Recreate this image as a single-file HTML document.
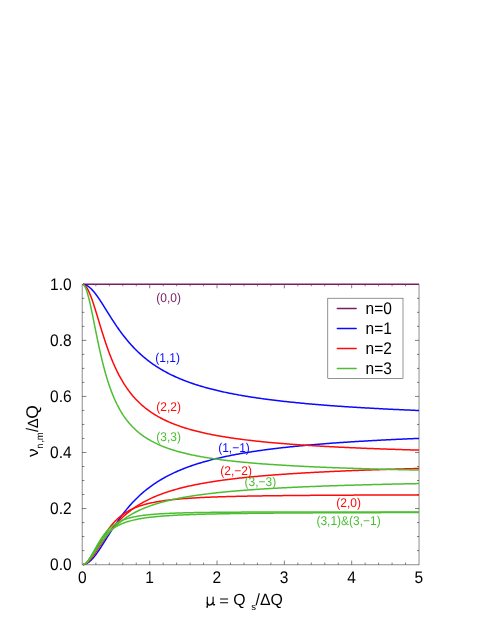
<!DOCTYPE html>
<html><head><meta charset="utf-8"><title>chart</title>
<style>
html,body{margin:0;padding:0;background:#fff;}
body{width:491px;height:635px;overflow:hidden;font-family:"Liberation Sans",sans-serif;}
svg{display:block;will-change:transform;opacity:0.999;}
text{font-family:"Liberation Sans",sans-serif;text-rendering:geometricPrecision;}
</style></head><body>
<svg width="491" height="635" viewBox="0 0 491 635">
<rect width="491" height="635" fill="#fff"/>
<g><rect x="82.1" y="284.4" width="336.92" height="280.48" fill="none" stroke="#000" stroke-width="0.45"/><path d="M95.86,564.6 v-2.0 M95.86,284.3 v2.0 M109.33,564.6 v-2.0 M109.33,284.3 v2.0 M122.79,564.6 v-2.0 M122.79,284.3 v2.0 M136.26,564.6 v-2.0 M136.26,284.3 v2.0 M149.72,564.6 v-4.0 M149.72,284.3 v4.0 M163.18,564.6 v-2.0 M163.18,284.3 v2.0 M176.65,564.6 v-2.0 M176.65,284.3 v2.0 M190.11,564.6 v-2.0 M190.11,284.3 v2.0 M203.58,564.6 v-2.0 M203.58,284.3 v2.0 M217.04,564.6 v-4.0 M217.04,284.3 v4.0 M230.50,564.6 v-2.0 M230.50,284.3 v2.0 M243.97,564.6 v-2.0 M243.97,284.3 v2.0 M257.43,564.6 v-2.0 M257.43,284.3 v2.0 M270.90,564.6 v-2.0 M270.90,284.3 v2.0 M284.36,564.6 v-4.0 M284.36,284.3 v4.0 M297.82,564.6 v-2.0 M297.82,284.3 v2.0 M311.29,564.6 v-2.0 M311.29,284.3 v2.0 M324.75,564.6 v-2.0 M324.75,284.3 v2.0 M338.22,564.6 v-2.0 M338.22,284.3 v2.0 M351.68,564.6 v-4.0 M351.68,284.3 v4.0 M365.14,564.6 v-2.0 M365.14,284.3 v2.0 M378.61,564.6 v-2.0 M378.61,284.3 v2.0 M392.07,564.6 v-2.0 M392.07,284.3 v2.0 M405.54,564.6 v-2.0 M405.54,284.3 v2.0 M82.1,550.59 h2.3 M419.0,550.59 h-2.0 M82.1,536.57 h2.3 M419.0,536.57 h-2.0 M82.1,522.56 h2.3 M419.0,522.56 h-2.0 M82.1,508.54 h4.3 M419.0,508.54 h-4.0 M82.1,494.53 h2.3 M419.0,494.53 h-2.0 M82.1,480.51 h2.3 M419.0,480.51 h-2.0 M82.1,466.50 h2.3 M419.0,466.50 h-2.0 M82.1,452.48 h4.3 M419.0,452.48 h-4.0 M82.1,438.47 h2.3 M419.0,438.47 h-2.0 M82.1,424.45 h2.3 M419.0,424.45 h-2.0 M82.1,410.44 h2.3 M419.0,410.44 h-2.0 M82.1,396.42 h4.3 M419.0,396.42 h-4.0 M82.1,382.40 h2.3 M419.0,382.40 h-2.0 M82.1,368.39 h2.3 M419.0,368.39 h-2.0 M82.1,354.38 h2.3 M419.0,354.38 h-2.0 M82.1,340.36 h4.3 M419.0,340.36 h-4.0 M82.1,326.35 h2.3 M419.0,326.35 h-2.0 M82.1,312.33 h2.3 M419.0,312.33 h-2.0 M82.1,298.31 h2.3 M419.0,298.31 h-2.0" stroke="#000" stroke-width="0.5" fill="none"/></g>
<defs><clipPath id="cp"><rect x="82.95" y="280" width="337" height="286"/></clipPath></defs>
<g clip-path="url(#cp)"><path d="M82.4,284.3 L419.0,284.3" stroke="#761f63" stroke-width="1.5" fill="none"/><path d="M82.40,284.30 L82.68,284.30 L82.96,284.32 L83.24,284.34 L83.52,284.38 L83.80,284.42 L84.08,284.47 L84.36,284.54 L84.64,284.61 L84.92,284.69 L85.21,284.78 L85.49,284.89 L85.77,285.00 L86.05,285.12 L86.33,285.24 L86.61,285.38 L86.89,285.53 L87.17,285.69 L87.45,285.85 L87.73,286.02 L88.01,286.21 L88.29,286.40 L88.57,286.60 L88.85,286.81 L89.13,287.02 L89.41,287.25 L89.69,287.48 L89.97,287.72 L90.25,287.97 L90.53,288.22 L90.82,288.48 L91.10,288.75 L91.38,289.03 L91.66,289.32 L91.94,289.61 L92.22,289.91 L92.50,290.21 L92.78,290.52 L93.06,290.84 L93.34,291.16 L93.62,291.49 L93.90,291.83 L94.18,292.17 L94.46,292.51 L94.74,292.87 L95.02,293.22 L95.30,293.59 L95.58,293.95 L95.86,294.32 L96.14,294.70 L96.43,295.08 L96.71,295.47 L96.99,295.85 L97.27,296.25 L97.55,296.64 L97.83,297.04 L98.11,297.45 L98.39,297.86 L98.67,298.27 L98.95,298.68 L99.23,299.10 L99.51,299.52 L99.79,299.94 L100.07,300.36 L100.35,300.79 L100.63,301.22 L100.91,301.65 L101.19,302.08 L101.47,302.52 L101.75,302.95 L102.04,303.39 L102.32,303.83 L102.60,304.27 L102.88,304.71 L103.16,305.16 L103.44,305.60 L103.72,306.05 L104.00,306.50 L104.28,306.94 L104.56,307.39 L104.84,307.84 L105.12,308.29 L105.40,308.74 L105.68,309.19 L105.96,309.63 L106.24,310.08 L106.52,310.53 L106.80,310.98 L107.08,311.43 L107.36,311.88 L107.65,312.33 L107.93,312.78 L108.21,313.23 L108.49,313.67 L108.77,314.12 L109.05,314.57 L109.33,315.01 L109.61,315.46 L109.89,315.90 L110.17,316.34 L110.45,316.78 L110.73,317.22 L111.01,317.66 L111.29,318.10 L111.57,318.54 L111.85,318.98 L112.13,319.41 L112.41,319.84 L112.69,320.28 L112.97,320.71 L113.26,321.14 L113.54,321.57 L113.82,321.99 L114.10,322.42 L114.38,322.84 L114.66,323.26 L114.94,323.68 L115.22,324.10 L115.50,324.52 L115.78,324.94 L116.06,325.35 L117.07,326.83 L118.09,328.29 L119.10,329.72 L120.11,331.13 L121.13,332.51 L122.14,333.87 L123.15,335.20 L124.17,336.50 L125.18,337.79 L126.19,339.04 L127.20,340.27 L128.22,341.47 L129.23,342.65 L130.24,343.81 L131.26,344.94 L132.27,346.04 L133.28,347.13 L134.30,348.19 L135.31,349.22 L136.32,350.24 L137.34,351.23 L138.35,352.20 L139.36,353.15 L140.38,354.08 L141.39,354.99 L142.40,355.88 L143.42,356.75 L144.43,357.61 L145.44,358.44 L146.46,359.26 L147.47,360.06 L148.48,360.84 L149.49,361.60 L150.51,362.36 L151.52,363.09 L152.53,363.81 L153.55,364.51 L154.56,365.20 L155.57,365.88 L156.59,366.54 L157.60,367.19 L158.61,367.83 L159.63,368.45 L160.64,369.06 L161.65,369.66 L162.67,370.25 L163.68,370.83 L164.69,371.39 L165.71,371.95 L166.72,372.49 L167.73,373.02 L168.75,373.55 L169.76,374.06 L170.77,374.56 L171.78,375.06 L172.80,375.54 L173.81,376.02 L174.82,376.49 L175.84,376.95 L176.85,377.40 L177.86,377.85 L178.88,378.28 L179.89,378.71 L180.90,379.13 L181.92,379.55 L182.93,379.95 L183.94,380.35 L184.96,380.75 L185.97,381.13 L186.98,381.51 L188.00,381.89 L189.01,382.25 L190.02,382.61 L191.04,382.97 L192.05,383.32 L193.06,383.67 L194.07,384.00 L195.09,384.34 L196.10,384.67 L197.11,384.99 L198.13,385.31 L199.14,385.62 L200.15,385.93 L201.17,386.23 L202.18,386.53 L203.19,386.83 L204.21,387.12 L205.22,387.41 L206.23,387.69 L207.25,387.97 L208.26,388.24 L209.27,388.51 L210.29,388.78 L211.30,389.04 L212.31,389.30 L213.33,389.55 L214.34,389.80 L215.35,390.05 L216.36,390.30 L217.38,390.54 L218.39,390.78 L219.40,391.01 L220.42,391.24 L221.43,391.47 L222.44,391.70 L223.46,391.92 L224.47,392.14 L225.48,392.36 L226.50,392.57 L227.51,392.78 L228.52,392.99 L229.54,393.20 L230.55,393.40 L231.56,393.60 L232.58,393.80 L233.59,393.99 L234.60,394.19 L235.61,394.38 L236.63,394.57 L237.64,394.75 L238.65,394.94 L239.67,395.12 L240.68,395.30 L241.69,395.48 L242.71,395.65 L243.72,395.82 L244.73,396.00 L245.75,396.16 L246.76,396.33 L247.77,396.50 L248.79,396.66 L249.80,396.82 L250.81,396.98 L251.83,397.14 L252.84,397.30 L253.85,397.45 L254.87,397.60 L255.88,397.75 L256.89,397.90 L257.90,398.05 L258.92,398.20 L259.93,398.34 L260.94,398.49 L261.96,398.63 L262.97,398.77 L263.98,398.91 L265.00,399.04 L266.01,399.18 L267.02,399.31 L268.04,399.45 L269.05,399.58 L270.06,399.71 L271.08,399.84 L272.09,399.96 L273.10,400.09 L274.12,400.21 L275.13,400.34 L276.14,400.46 L277.16,400.58 L278.17,400.70 L279.18,400.82 L280.19,400.94 L281.21,401.05 L282.22,401.17 L283.23,401.28 L284.25,401.40 L285.26,401.51 L286.27,401.62 L287.29,401.73 L288.30,401.84 L289.31,401.95 L290.33,402.05 L291.34,402.16 L292.35,402.26 L293.37,402.37 L294.38,402.47 L295.39,402.57 L296.41,402.67 L297.42,402.77 L298.43,402.87 L299.45,402.97 L300.46,403.07 L301.47,403.17 L302.48,403.26 L303.50,403.36 L304.51,403.45 L305.52,403.54 L306.54,403.64 L307.55,403.73 L308.56,403.82 L309.58,403.91 L310.59,404.00 L311.60,404.09 L312.62,404.17 L313.63,404.26 L314.64,404.35 L315.66,404.43 L316.67,404.52 L317.68,404.60 L318.70,404.69 L319.71,404.77 L320.72,404.85 L321.73,404.93 L322.75,405.01 L323.76,405.09 L324.77,405.17 L325.79,405.25 L326.80,405.33 L327.81,405.41 L328.83,405.48 L329.84,405.56 L330.85,405.63 L331.87,405.71 L332.88,405.78 L333.89,405.86 L334.91,405.93 L335.92,406.00 L336.93,406.08 L337.95,406.15 L338.96,406.22 L339.97,406.29 L340.99,406.36 L342.00,406.43 L343.01,406.50 L344.02,406.57 L345.04,406.63 L346.05,406.70 L347.06,406.77 L348.08,406.83 L349.09,406.90 L350.10,406.97 L351.12,407.03 L352.13,407.10 L353.14,407.16 L354.16,407.22 L355.17,407.29 L356.18,407.35 L357.20,407.41 L358.21,407.47 L359.22,407.53 L360.24,407.59 L361.25,407.65 L362.26,407.71 L363.28,407.77 L364.29,407.83 L365.30,407.89 L366.31,407.95 L367.33,408.01 L368.34,408.07 L369.35,408.12 L370.37,408.18 L371.38,408.24 L372.39,408.29 L373.41,408.35 L374.42,408.40 L375.43,408.46 L376.45,408.51 L377.46,408.56 L378.47,408.62 L379.49,408.67 L380.50,408.72 L381.51,408.78 L382.53,408.83 L383.54,408.88 L384.55,408.93 L385.57,408.98 L386.58,409.04 L387.59,409.09 L388.60,409.14 L389.62,409.19 L390.63,409.24 L391.64,409.28 L392.66,409.33 L393.67,409.38 L394.68,409.43 L395.70,409.48 L396.71,409.53 L397.72,409.57 L398.74,409.62 L399.75,409.67 L400.76,409.71 L401.78,409.76 L402.79,409.81 L403.80,409.85 L404.82,409.90 L405.83,409.94 L406.84,409.99 L407.86,410.03 L408.87,410.08 L409.88,410.12 L410.89,410.16 L411.91,410.21 L412.92,410.25 L413.93,410.29 L414.95,410.34 L415.96,410.38 L416.97,410.42 L417.99,410.46 L419.00,410.50" fill="none" stroke="#0a0aff" stroke-width="1.5" stroke-linejoin="round" stroke-linecap="butt"/><path d="M82.40,564.60 L82.68,564.60 L82.96,564.58 L83.24,564.56 L83.52,564.52 L83.80,564.48 L84.08,564.43 L84.36,564.36 L84.64,564.29 L84.92,564.21 L85.21,564.12 L85.49,564.01 L85.77,563.90 L86.05,563.78 L86.33,563.66 L86.61,563.52 L86.89,563.37 L87.17,563.21 L87.45,563.05 L87.73,562.88 L88.01,562.69 L88.29,562.50 L88.57,562.30 L88.85,562.09 L89.13,561.88 L89.41,561.65 L89.69,561.42 L89.97,561.18 L90.25,560.93 L90.53,560.68 L90.82,560.42 L91.10,560.15 L91.38,559.87 L91.66,559.58 L91.94,559.29 L92.22,558.99 L92.50,558.69 L92.78,558.38 L93.06,558.06 L93.34,557.74 L93.62,557.41 L93.90,557.07 L94.18,556.73 L94.46,556.39 L94.74,556.03 L95.02,555.68 L95.30,555.31 L95.58,554.95 L95.86,554.58 L96.14,554.20 L96.43,553.82 L96.71,553.43 L96.99,553.05 L97.27,552.65 L97.55,552.26 L97.83,551.86 L98.11,551.45 L98.39,551.04 L98.67,550.63 L98.95,550.22 L99.23,549.80 L99.51,549.38 L99.79,548.96 L100.07,548.54 L100.35,548.11 L100.63,547.68 L100.91,547.25 L101.19,546.82 L101.47,546.38 L101.75,545.95 L102.04,545.51 L102.32,545.07 L102.60,544.63 L102.88,544.19 L103.16,543.74 L103.44,543.30 L103.72,542.85 L104.00,542.40 L104.28,541.96 L104.56,541.51 L104.84,541.06 L105.12,540.61 L105.40,540.16 L105.68,539.71 L105.96,539.27 L106.24,538.82 L106.52,538.37 L106.80,537.92 L107.08,537.47 L107.36,537.02 L107.65,536.57 L107.93,536.12 L108.21,535.67 L108.49,535.23 L108.77,534.78 L109.05,534.33 L109.33,533.89 L109.61,533.44 L109.89,533.00 L110.17,532.56 L110.45,532.12 L110.73,531.68 L111.01,531.24 L111.29,530.80 L111.57,530.36 L111.85,529.92 L112.13,529.49 L112.41,529.06 L112.69,528.62 L112.97,528.19 L113.26,527.76 L113.54,527.33 L113.82,526.91 L114.10,526.48 L114.38,526.06 L114.66,525.64 L114.94,525.22 L115.22,524.80 L115.50,524.38 L115.78,523.96 L116.06,523.55 L117.07,522.07 L118.09,520.61 L119.10,519.18 L120.11,517.77 L121.13,516.39 L122.14,515.03 L123.15,513.70 L124.17,512.40 L125.18,511.11 L126.19,509.86 L127.20,508.63 L128.22,507.43 L129.23,506.25 L130.24,505.09 L131.26,503.96 L132.27,502.86 L133.28,501.77 L134.30,500.71 L135.31,499.68 L136.32,498.66 L137.34,497.67 L138.35,496.70 L139.36,495.75 L140.38,494.82 L141.39,493.91 L142.40,493.02 L143.42,492.15 L144.43,491.29 L145.44,490.46 L146.46,489.64 L147.47,488.84 L148.48,488.06 L149.49,487.30 L150.51,486.54 L151.52,485.81 L152.53,485.09 L153.55,484.39 L154.56,483.70 L155.57,483.02 L156.59,482.36 L157.60,481.71 L158.61,481.07 L159.63,480.45 L160.64,479.84 L161.65,479.24 L162.67,478.65 L163.68,478.07 L164.69,477.51 L165.71,476.95 L166.72,476.41 L167.73,475.88 L168.75,475.35 L169.76,474.84 L170.77,474.34 L171.78,473.84 L172.80,473.36 L173.81,472.88 L174.82,472.41 L175.84,471.95 L176.85,471.50 L177.86,471.05 L178.88,470.62 L179.89,470.19 L180.90,469.77 L181.92,469.35 L182.93,468.95 L183.94,468.55 L184.96,468.15 L185.97,467.77 L186.98,467.39 L188.00,467.01 L189.01,466.65 L190.02,466.29 L191.04,465.93 L192.05,465.58 L193.06,465.23 L194.07,464.90 L195.09,464.56 L196.10,464.23 L197.11,463.91 L198.13,463.59 L199.14,463.28 L200.15,462.97 L201.17,462.67 L202.18,462.37 L203.19,462.07 L204.21,461.78 L205.22,461.49 L206.23,461.21 L207.25,460.93 L208.26,460.66 L209.27,460.39 L210.29,460.12 L211.30,459.86 L212.31,459.60 L213.33,459.35 L214.34,459.10 L215.35,458.85 L216.36,458.60 L217.38,458.36 L218.39,458.12 L219.40,457.89 L220.42,457.66 L221.43,457.43 L222.44,457.20 L223.46,456.98 L224.47,456.76 L225.48,456.54 L226.50,456.33 L227.51,456.12 L228.52,455.91 L229.54,455.70 L230.55,455.50 L231.56,455.30 L232.58,455.10 L233.59,454.91 L234.60,454.71 L235.61,454.52 L236.63,454.33 L237.64,454.15 L238.65,453.96 L239.67,453.78 L240.68,453.60 L241.69,453.42 L242.71,453.25 L243.72,453.08 L244.73,452.90 L245.75,452.74 L246.76,452.57 L247.77,452.40 L248.79,452.24 L249.80,452.08 L250.81,451.92 L251.83,451.76 L252.84,451.60 L253.85,451.45 L254.87,451.30 L255.88,451.15 L256.89,451.00 L257.90,450.85 L258.92,450.70 L259.93,450.56 L260.94,450.41 L261.96,450.27 L262.97,450.13 L263.98,449.99 L265.00,449.86 L266.01,449.72 L267.02,449.59 L268.04,449.45 L269.05,449.32 L270.06,449.19 L271.08,449.06 L272.09,448.94 L273.10,448.81 L274.12,448.69 L275.13,448.56 L276.14,448.44 L277.16,448.32 L278.17,448.20 L279.18,448.08 L280.19,447.96 L281.21,447.85 L282.22,447.73 L283.23,447.62 L284.25,447.50 L285.26,447.39 L286.27,447.28 L287.29,447.17 L288.30,447.06 L289.31,446.95 L290.33,446.85 L291.34,446.74 L292.35,446.64 L293.37,446.53 L294.38,446.43 L295.39,446.33 L296.41,446.23 L297.42,446.13 L298.43,446.03 L299.45,445.93 L300.46,445.83 L301.47,445.73 L302.48,445.64 L303.50,445.54 L304.51,445.45 L305.52,445.36 L306.54,445.26 L307.55,445.17 L308.56,445.08 L309.58,444.99 L310.59,444.90 L311.60,444.81 L312.62,444.73 L313.63,444.64 L314.64,444.55 L315.66,444.47 L316.67,444.38 L317.68,444.30 L318.70,444.21 L319.71,444.13 L320.72,444.05 L321.73,443.97 L322.75,443.89 L323.76,443.81 L324.77,443.73 L325.79,443.65 L326.80,443.57 L327.81,443.49 L328.83,443.42 L329.84,443.34 L330.85,443.27 L331.87,443.19 L332.88,443.12 L333.89,443.04 L334.91,442.97 L335.92,442.90 L336.93,442.82 L337.95,442.75 L338.96,442.68 L339.97,442.61 L340.99,442.54 L342.00,442.47 L343.01,442.40 L344.02,442.33 L345.04,442.27 L346.05,442.20 L347.06,442.13 L348.08,442.07 L349.09,442.00 L350.10,441.93 L351.12,441.87 L352.13,441.80 L353.14,441.74 L354.16,441.68 L355.17,441.61 L356.18,441.55 L357.20,441.49 L358.21,441.43 L359.22,441.37 L360.24,441.31 L361.25,441.25 L362.26,441.19 L363.28,441.13 L364.29,441.07 L365.30,441.01 L366.31,440.95 L367.33,440.89 L368.34,440.83 L369.35,440.78 L370.37,440.72 L371.38,440.66 L372.39,440.61 L373.41,440.55 L374.42,440.50 L375.43,440.44 L376.45,440.39 L377.46,440.34 L378.47,440.28 L379.49,440.23 L380.50,440.18 L381.51,440.12 L382.53,440.07 L383.54,440.02 L384.55,439.97 L385.57,439.92 L386.58,439.86 L387.59,439.81 L388.60,439.76 L389.62,439.71 L390.63,439.66 L391.64,439.62 L392.66,439.57 L393.67,439.52 L394.68,439.47 L395.70,439.42 L396.71,439.37 L397.72,439.33 L398.74,439.28 L399.75,439.23 L400.76,439.19 L401.78,439.14 L402.79,439.09 L403.80,439.05 L404.82,439.00 L405.83,438.96 L406.84,438.91 L407.86,438.87 L408.87,438.82 L409.88,438.78 L410.89,438.74 L411.91,438.69 L412.92,438.65 L413.93,438.61 L414.95,438.56 L415.96,438.52 L416.97,438.48 L417.99,438.44 L419.00,438.40" fill="none" stroke="#0a0aff" stroke-width="1.5" stroke-linejoin="round" stroke-linecap="butt"/><path d="M82.40,284.30 L82.68,284.31 L82.96,284.36 L83.24,284.43 L83.52,284.53 L83.80,284.66 L84.08,284.82 L84.36,285.01 L84.64,285.23 L84.92,285.47 L85.21,285.74 L85.49,286.04 L85.77,286.37 L86.05,286.72 L86.33,287.10 L86.61,287.51 L86.89,287.94 L87.17,288.40 L87.45,288.88 L87.73,289.38 L88.01,289.91 L88.29,290.46 L88.57,291.03 L88.85,291.62 L89.13,292.23 L89.41,292.87 L89.69,293.52 L89.97,294.19 L90.25,294.88 L90.53,295.59 L90.82,296.31 L91.10,297.05 L91.38,297.81 L91.66,298.58 L91.94,299.36 L92.22,300.16 L92.50,300.97 L92.78,301.79 L93.06,302.62 L93.34,303.46 L93.62,304.31 L93.90,305.18 L94.18,306.05 L94.46,306.92 L94.74,307.81 L95.02,308.70 L95.30,309.60 L95.58,310.50 L95.86,311.41 L96.14,312.33 L96.43,313.24 L96.71,314.16 L96.99,315.08 L97.27,316.01 L97.55,316.94 L97.83,317.86 L98.11,318.79 L98.39,319.72 L98.67,320.65 L98.95,321.58 L99.23,322.50 L99.51,323.43 L99.79,324.36 L100.07,325.28 L100.35,326.20 L100.63,327.12 L100.91,328.03 L101.19,328.94 L101.47,329.85 L101.75,330.76 L102.04,331.66 L102.32,332.55 L102.60,333.45 L102.88,334.33 L103.16,335.22 L103.44,336.09 L103.72,336.97 L104.00,337.83 L104.28,338.70 L104.56,339.55 L104.84,340.40 L105.12,341.25 L105.40,342.09 L105.68,342.92 L105.96,343.75 L106.24,344.57 L106.52,345.38 L106.80,346.19 L107.08,346.99 L107.36,347.79 L107.65,348.58 L107.93,349.36 L108.21,350.14 L108.49,350.91 L108.77,351.67 L109.05,352.43 L109.33,353.17 L109.61,353.92 L109.89,354.65 L110.17,355.38 L110.45,356.11 L110.73,356.82 L111.01,357.53 L111.29,358.23 L111.57,358.93 L111.85,359.62 L112.13,360.30 L112.41,360.98 L112.69,361.65 L112.97,362.32 L113.26,362.97 L113.54,363.62 L113.82,364.27 L114.10,364.91 L114.38,365.54 L114.66,366.16 L114.94,366.78 L115.22,367.40 L115.50,368.01 L115.78,368.61 L116.06,369.20 L117.07,371.30 L118.09,373.33 L119.10,375.29 L120.11,377.17 L121.13,378.99 L122.14,380.74 L123.15,382.43 L124.17,384.06 L125.18,385.63 L126.19,387.15 L127.20,388.61 L128.22,390.03 L129.23,391.39 L130.24,392.71 L131.26,393.99 L132.27,395.22 L133.28,396.41 L134.30,397.57 L135.31,398.68 L136.32,399.76 L137.34,400.81 L138.35,401.82 L139.36,402.80 L140.38,403.75 L141.39,404.68 L142.40,405.57 L143.42,406.44 L144.43,407.28 L145.44,408.10 L146.46,408.89 L147.47,409.66 L148.48,410.41 L149.49,411.14 L150.51,411.85 L151.52,412.54 L152.53,413.21 L153.55,413.87 L154.56,414.50 L155.57,415.12 L156.59,415.73 L157.60,416.31 L158.61,416.89 L159.63,417.45 L160.64,417.99 L161.65,418.52 L162.67,419.04 L163.68,419.55 L164.69,420.04 L165.71,420.52 L166.72,421.00 L167.73,421.46 L168.75,421.91 L169.76,422.35 L170.77,422.78 L171.78,423.20 L172.80,423.61 L173.81,424.01 L174.82,424.41 L175.84,424.79 L176.85,425.17 L177.86,425.54 L178.88,425.90 L179.89,426.25 L180.90,426.60 L181.92,426.94 L182.93,427.28 L183.94,427.60 L184.96,427.92 L185.97,428.24 L186.98,428.55 L188.00,428.85 L189.01,429.14 L190.02,429.44 L191.04,429.72 L192.05,430.00 L193.06,430.28 L194.07,430.55 L195.09,430.81 L196.10,431.07 L197.11,431.33 L198.13,431.58 L199.14,431.83 L200.15,432.07 L201.17,432.31 L202.18,432.55 L203.19,432.78 L204.21,433.00 L205.22,433.23 L206.23,433.45 L207.25,433.66 L208.26,433.88 L209.27,434.09 L210.29,434.29 L211.30,434.49 L212.31,434.69 L213.33,434.89 L214.34,435.08 L215.35,435.27 L216.36,435.46 L217.38,435.65 L218.39,435.83 L219.40,436.01 L220.42,436.18 L221.43,436.36 L222.44,436.53 L223.46,436.70 L224.47,436.86 L225.48,437.03 L226.50,437.19 L227.51,437.35 L228.52,437.50 L229.54,437.66 L230.55,437.81 L231.56,437.96 L232.58,438.11 L233.59,438.26 L234.60,438.40 L235.61,438.55 L236.63,438.69 L237.64,438.83 L238.65,438.96 L239.67,439.10 L240.68,439.23 L241.69,439.36 L242.71,439.49 L243.72,439.62 L244.73,439.75 L245.75,439.88 L246.76,440.00 L247.77,440.12 L248.79,440.24 L249.80,440.36 L250.81,440.48 L251.83,440.60 L252.84,440.71 L253.85,440.82 L254.87,440.94 L255.88,441.05 L256.89,441.16 L257.90,441.27 L258.92,441.37 L259.93,441.48 L260.94,441.58 L261.96,441.69 L262.97,441.79 L263.98,441.89 L265.00,441.99 L266.01,442.09 L267.02,442.19 L268.04,442.28 L269.05,442.38 L270.06,442.47 L271.08,442.57 L272.09,442.66 L273.10,442.75 L274.12,442.84 L275.13,442.93 L276.14,443.02 L277.16,443.11 L278.17,443.19 L279.18,443.28 L280.19,443.36 L281.21,443.45 L282.22,443.53 L283.23,443.61 L284.25,443.69 L285.26,443.78 L286.27,443.85 L287.29,443.93 L288.30,444.01 L289.31,444.09 L290.33,444.17 L291.34,444.24 L292.35,444.32 L293.37,444.39 L294.38,444.47 L295.39,444.54 L296.41,444.61 L297.42,444.68 L298.43,444.75 L299.45,444.82 L300.46,444.89 L301.47,444.96 L302.48,445.03 L303.50,445.10 L304.51,445.17 L305.52,445.23 L306.54,445.30 L307.55,445.36 L308.56,445.43 L309.58,445.49 L310.59,445.56 L311.60,445.62 L312.62,445.68 L313.63,445.74 L314.64,445.80 L315.66,445.86 L316.67,445.92 L317.68,445.98 L318.70,446.04 L319.71,446.10 L320.72,446.16 L321.73,446.22 L322.75,446.27 L323.76,446.33 L324.77,446.39 L325.79,446.44 L326.80,446.50 L327.81,446.55 L328.83,446.61 L329.84,446.66 L330.85,446.71 L331.87,446.77 L332.88,446.82 L333.89,446.87 L334.91,446.92 L335.92,446.97 L336.93,447.03 L337.95,447.08 L338.96,447.13 L339.97,447.18 L340.99,447.22 L342.00,447.27 L343.01,447.32 L344.02,447.37 L345.04,447.42 L346.05,447.46 L347.06,447.51 L348.08,447.56 L349.09,447.60 L350.10,447.65 L351.12,447.70 L352.13,447.74 L353.14,447.79 L354.16,447.83 L355.17,447.87 L356.18,447.92 L357.20,447.96 L358.21,448.00 L359.22,448.05 L360.24,448.09 L361.25,448.13 L362.26,448.17 L363.28,448.22 L364.29,448.26 L365.30,448.30 L366.31,448.34 L367.33,448.38 L368.34,448.42 L369.35,448.46 L370.37,448.50 L371.38,448.54 L372.39,448.58 L373.41,448.62 L374.42,448.65 L375.43,448.69 L376.45,448.73 L377.46,448.77 L378.47,448.81 L379.49,448.84 L380.50,448.88 L381.51,448.92 L382.53,448.95 L383.54,448.99 L384.55,449.02 L385.57,449.06 L386.58,449.09 L387.59,449.13 L388.60,449.16 L389.62,449.20 L390.63,449.23 L391.64,449.27 L392.66,449.30 L393.67,449.34 L394.68,449.37 L395.70,449.40 L396.71,449.44 L397.72,449.47 L398.74,449.50 L399.75,449.53 L400.76,449.57 L401.78,449.60 L402.79,449.63 L403.80,449.66 L404.82,449.69 L405.83,449.72 L406.84,449.76 L407.86,449.79 L408.87,449.82 L409.88,449.85 L410.89,449.88 L411.91,449.91 L412.92,449.94 L413.93,449.97 L414.95,450.00 L415.96,450.03 L416.97,450.05 L417.99,450.08 L419.00,450.11" fill="none" stroke="#ff0a0a" stroke-width="1.5" stroke-linejoin="round" stroke-linecap="butt"/><path d="M82.40,564.60 L82.68,564.59 L82.96,564.57 L83.24,564.53 L83.52,564.48 L83.80,564.42 L84.08,564.33 L84.36,564.24 L84.64,564.13 L84.92,564.00 L85.21,563.86 L85.49,563.71 L85.77,563.54 L86.05,563.36 L86.33,563.16 L86.61,562.95 L86.89,562.72 L87.17,562.48 L87.45,562.23 L87.73,561.97 L88.01,561.69 L88.29,561.40 L88.57,561.09 L88.85,560.78 L89.13,560.45 L89.41,560.12 L89.69,559.77 L89.97,559.41 L90.25,559.04 L90.53,558.66 L90.82,558.27 L91.10,557.87 L91.38,557.46 L91.66,557.05 L91.94,556.63 L92.22,556.20 L92.50,555.76 L92.78,555.31 L93.06,554.86 L93.34,554.41 L93.62,553.94 L93.90,553.48 L94.18,553.00 L94.46,552.53 L94.74,552.05 L95.02,551.56 L95.30,551.07 L95.58,550.58 L95.86,550.09 L96.14,549.59 L96.43,549.10 L96.71,548.60 L96.99,548.10 L97.27,547.59 L97.55,547.09 L97.83,546.59 L98.11,546.09 L98.39,545.59 L98.67,545.08 L98.95,544.58 L99.23,544.08 L99.51,543.59 L99.79,543.09 L100.07,542.59 L100.35,542.10 L100.63,541.61 L100.91,541.12 L101.19,540.63 L101.47,540.15 L101.75,539.66 L102.04,539.18 L102.32,538.71 L102.60,538.24 L102.88,537.77 L103.16,537.30 L103.44,536.84 L103.72,536.38 L104.00,535.92 L104.28,535.47 L104.56,535.02 L104.84,534.58 L105.12,534.14 L105.40,533.70 L105.68,533.27 L105.96,532.84 L106.24,532.42 L106.52,532.00 L106.80,531.58 L107.08,531.17 L107.36,530.77 L107.65,530.36 L107.93,529.97 L108.21,529.57 L108.49,529.18 L108.77,528.80 L109.05,528.42 L109.33,528.04 L109.61,527.67 L109.89,527.30 L110.17,526.94 L110.45,526.58 L110.73,526.22 L111.01,525.87 L111.29,525.52 L111.57,525.18 L111.85,524.84 L112.13,524.51 L112.41,524.18 L112.69,523.85 L112.97,523.53 L113.26,523.21 L113.54,522.90 L113.82,522.59 L114.10,522.28 L114.38,521.98 L114.66,521.68 L114.94,521.39 L115.22,521.10 L115.50,520.81 L115.78,520.53 L116.06,520.25 L117.07,519.27 L118.09,518.34 L119.10,517.45 L120.11,516.60 L121.13,515.79 L122.14,515.02 L123.15,514.28 L124.17,513.58 L125.18,512.91 L126.19,512.27 L127.20,511.66 L128.22,511.08 L129.23,510.53 L130.24,510.00 L131.26,509.49 L132.27,509.01 L133.28,508.54 L134.30,508.10 L135.31,507.68 L136.32,507.27 L137.34,506.88 L138.35,506.51 L139.36,506.15 L140.38,505.81 L141.39,505.48 L142.40,505.17 L143.42,504.87 L144.43,504.58 L145.44,504.30 L146.46,504.03 L147.47,503.77 L148.48,503.53 L149.49,503.29 L150.51,503.06 L151.52,502.84 L152.53,502.63 L153.55,502.42 L154.56,502.22 L155.57,502.03 L156.59,501.85 L157.60,501.67 L158.61,501.50 L159.63,501.34 L160.64,501.18 L161.65,501.02 L162.67,500.87 L163.68,500.73 L164.69,500.59 L165.71,500.45 L166.72,500.32 L167.73,500.20 L168.75,500.07 L169.76,499.96 L170.77,499.84 L171.78,499.73 L172.80,499.62 L173.81,499.52 L174.82,499.41 L175.84,499.32 L176.85,499.22 L177.86,499.13 L178.88,499.04 L179.89,498.95 L180.90,498.86 L181.92,498.78 L182.93,498.70 L183.94,498.62 L184.96,498.54 L185.97,498.47 L186.98,498.40 L188.00,498.33 L189.01,498.26 L190.02,498.19 L191.04,498.13 L192.05,498.07 L193.06,498.00 L194.07,497.94 L195.09,497.89 L196.10,497.83 L197.11,497.77 L198.13,497.72 L199.14,497.67 L200.15,497.61 L201.17,497.56 L202.18,497.51 L203.19,497.47 L204.21,497.42 L205.22,497.37 L206.23,497.33 L207.25,497.29 L208.26,497.24 L209.27,497.20 L210.29,497.16 L211.30,497.12 L212.31,497.08 L213.33,497.04 L214.34,497.01 L215.35,496.97 L216.36,496.93 L217.38,496.90 L218.39,496.87 L219.40,496.83 L220.42,496.80 L221.43,496.77 L222.44,496.74 L223.46,496.70 L224.47,496.67 L225.48,496.65 L226.50,496.62 L227.51,496.59 L228.52,496.56 L229.54,496.53 L230.55,496.51 L231.56,496.48 L232.58,496.45 L233.59,496.43 L234.60,496.40 L235.61,496.38 L236.63,496.36 L237.64,496.33 L238.65,496.31 L239.67,496.29 L240.68,496.27 L241.69,496.24 L242.71,496.22 L243.72,496.20 L244.73,496.18 L245.75,496.16 L246.76,496.14 L247.77,496.12 L248.79,496.10 L249.80,496.09 L250.81,496.07 L251.83,496.05 L252.84,496.03 L253.85,496.01 L254.87,496.00 L255.88,495.98 L256.89,495.96 L257.90,495.95 L258.92,495.93 L259.93,495.92 L260.94,495.90 L261.96,495.89 L262.97,495.87 L263.98,495.86 L265.00,495.84 L266.01,495.83 L267.02,495.81 L268.04,495.80 L269.05,495.79 L270.06,495.77 L271.08,495.76 L272.09,495.75 L273.10,495.73 L274.12,495.72 L275.13,495.71 L276.14,495.70 L277.16,495.68 L278.17,495.67 L279.18,495.66 L280.19,495.65 L281.21,495.64 L282.22,495.63 L283.23,495.62 L284.25,495.61 L285.26,495.59 L286.27,495.58 L287.29,495.57 L288.30,495.56 L289.31,495.55 L290.33,495.54 L291.34,495.53 L292.35,495.52 L293.37,495.52 L294.38,495.51 L295.39,495.50 L296.41,495.49 L297.42,495.48 L298.43,495.47 L299.45,495.46 L300.46,495.45 L301.47,495.44 L302.48,495.44 L303.50,495.43 L304.51,495.42 L305.52,495.41 L306.54,495.40 L307.55,495.40 L308.56,495.39 L309.58,495.38 L310.59,495.37 L311.60,495.37 L312.62,495.36 L313.63,495.35 L314.64,495.34 L315.66,495.34 L316.67,495.33 L317.68,495.32 L318.70,495.32 L319.71,495.31 L320.72,495.30 L321.73,495.30 L322.75,495.29 L323.76,495.28 L324.77,495.28 L325.79,495.27 L326.80,495.27 L327.81,495.26 L328.83,495.25 L329.84,495.25 L330.85,495.24 L331.87,495.24 L332.88,495.23 L333.89,495.22 L334.91,495.22 L335.92,495.21 L336.93,495.21 L337.95,495.20 L338.96,495.20 L339.97,495.19 L340.99,495.19 L342.00,495.18 L343.01,495.18 L344.02,495.17 L345.04,495.17 L346.05,495.16 L347.06,495.16 L348.08,495.15 L349.09,495.15 L350.10,495.14 L351.12,495.14 L352.13,495.13 L353.14,495.13 L354.16,495.12 L355.17,495.12 L356.18,495.12 L357.20,495.11 L358.21,495.11 L359.22,495.10 L360.24,495.10 L361.25,495.10 L362.26,495.09 L363.28,495.09 L364.29,495.08 L365.30,495.08 L366.31,495.08 L367.33,495.07 L368.34,495.07 L369.35,495.06 L370.37,495.06 L371.38,495.06 L372.39,495.05 L373.41,495.05 L374.42,495.05 L375.43,495.04 L376.45,495.04 L377.46,495.03 L378.47,495.03 L379.49,495.03 L380.50,495.02 L381.51,495.02 L382.53,495.02 L383.54,495.01 L384.55,495.01 L385.57,495.01 L386.58,495.00 L387.59,495.00 L388.60,495.00 L389.62,495.00 L390.63,494.99 L391.64,494.99 L392.66,494.99 L393.67,494.98 L394.68,494.98 L395.70,494.98 L396.71,494.97 L397.72,494.97 L398.74,494.97 L399.75,494.97 L400.76,494.96 L401.78,494.96 L402.79,494.96 L403.80,494.95 L404.82,494.95 L405.83,494.95 L406.84,494.95 L407.86,494.94 L408.87,494.94 L409.88,494.94 L410.89,494.94 L411.91,494.93 L412.92,494.93 L413.93,494.93 L414.95,494.93 L415.96,494.92 L416.97,494.92 L417.99,494.92 L419.00,494.92" fill="none" stroke="#ff0a0a" stroke-width="1.5" stroke-linejoin="round" stroke-linecap="butt"/><path d="M82.40,564.60 L82.68,564.59 L82.96,564.57 L83.24,564.53 L83.52,564.48 L83.80,564.42 L84.08,564.34 L84.36,564.25 L84.64,564.14 L84.92,564.02 L85.21,563.89 L85.49,563.75 L85.77,563.59 L86.05,563.42 L86.33,563.24 L86.61,563.04 L86.89,562.84 L87.17,562.62 L87.45,562.39 L87.73,562.16 L88.01,561.91 L88.29,561.65 L88.57,561.38 L88.85,561.10 L89.13,560.81 L89.41,560.52 L89.69,560.21 L89.97,559.90 L90.25,559.58 L90.53,559.25 L90.82,558.92 L91.10,558.58 L91.38,558.23 L91.66,557.87 L91.94,557.51 L92.22,557.15 L92.50,556.78 L92.78,556.40 L93.06,556.02 L93.34,555.63 L93.62,555.24 L93.90,554.85 L94.18,554.45 L94.46,554.05 L94.74,553.64 L95.02,553.24 L95.30,552.83 L95.58,552.41 L95.86,552.00 L96.14,551.58 L96.43,551.16 L96.71,550.74 L96.99,550.32 L97.27,549.90 L97.55,549.47 L97.83,549.05 L98.11,548.62 L98.39,548.19 L98.67,547.77 L98.95,547.34 L99.23,546.91 L99.51,546.48 L99.79,546.06 L100.07,545.63 L100.35,545.20 L100.63,544.78 L100.91,544.35 L101.19,543.93 L101.47,543.50 L101.75,543.08 L102.04,542.66 L102.32,542.24 L102.60,541.82 L102.88,541.40 L103.16,540.98 L103.44,540.57 L103.72,540.15 L104.00,539.74 L104.28,539.33 L104.56,538.92 L104.84,538.52 L105.12,538.11 L105.40,537.71 L105.68,537.31 L105.96,536.91 L106.24,536.51 L106.52,536.12 L106.80,535.72 L107.08,535.33 L107.36,534.94 L107.65,534.56 L107.93,534.17 L108.21,533.79 L108.49,533.41 L108.77,533.03 L109.05,532.66 L109.33,532.29 L109.61,531.92 L109.89,531.55 L110.17,531.18 L110.45,530.82 L110.73,530.46 L111.01,530.10 L111.29,529.74 L111.57,529.39 L111.85,529.04 L112.13,528.69 L112.41,528.34 L112.69,528.00 L112.97,527.65 L113.26,527.31 L113.54,526.98 L113.82,526.64 L114.10,526.31 L114.38,525.98 L114.66,525.65 L114.94,525.33 L115.22,525.00 L115.50,524.68 L115.78,524.36 L116.06,524.05 L117.07,522.92 L118.09,521.83 L119.10,520.77 L120.11,519.73 L121.13,518.72 L122.14,517.74 L123.15,516.79 L124.17,515.86 L125.18,514.96 L126.19,514.08 L127.20,513.22 L128.22,512.39 L129.23,511.58 L130.24,510.79 L131.26,510.02 L132.27,509.27 L133.28,508.54 L134.30,507.83 L135.31,507.14 L136.32,506.47 L137.34,505.81 L138.35,505.17 L139.36,504.54 L140.38,503.93 L141.39,503.34 L142.40,502.76 L143.42,502.19 L144.43,501.64 L145.44,501.10 L146.46,500.58 L147.47,500.06 L148.48,499.56 L149.49,499.07 L150.51,498.59 L151.52,498.12 L152.53,497.66 L153.55,497.21 L154.56,496.77 L155.57,496.35 L156.59,495.93 L157.60,495.51 L158.61,495.11 L159.63,494.72 L160.64,494.33 L161.65,493.96 L162.67,493.59 L163.68,493.22 L164.69,492.87 L165.71,492.52 L166.72,492.18 L167.73,491.85 L168.75,491.52 L169.76,491.20 L170.77,490.88 L171.78,490.57 L172.80,490.27 L173.81,489.97 L174.82,489.68 L175.84,489.39 L176.85,489.11 L177.86,488.84 L178.88,488.56 L179.89,488.30 L180.90,488.04 L181.92,487.78 L182.93,487.52 L183.94,487.28 L184.96,487.03 L185.97,486.79 L186.98,486.56 L188.00,486.32 L189.01,486.10 L190.02,485.87 L191.04,485.65 L192.05,485.43 L193.06,485.22 L194.07,485.01 L195.09,484.80 L196.10,484.60 L197.11,484.40 L198.13,484.20 L199.14,484.00 L200.15,483.81 L201.17,483.62 L202.18,483.44 L203.19,483.26 L204.21,483.08 L205.22,482.90 L206.23,482.72 L207.25,482.55 L208.26,482.38 L209.27,482.21 L210.29,482.05 L211.30,481.89 L212.31,481.73 L213.33,481.57 L214.34,481.41 L215.35,481.26 L216.36,481.11 L217.38,480.96 L218.39,480.81 L219.40,480.66 L220.42,480.52 L221.43,480.38 L222.44,480.24 L223.46,480.10 L224.47,479.96 L225.48,479.83 L226.50,479.70 L227.51,479.56 L228.52,479.43 L229.54,479.31 L230.55,479.18 L231.56,479.06 L232.58,478.93 L233.59,478.81 L234.60,478.69 L235.61,478.57 L236.63,478.46 L237.64,478.34 L238.65,478.23 L239.67,478.11 L240.68,478.00 L241.69,477.89 L242.71,477.78 L243.72,477.67 L244.73,477.57 L245.75,477.46 L246.76,477.36 L247.77,477.26 L248.79,477.15 L249.80,477.05 L250.81,476.95 L251.83,476.86 L252.84,476.76 L253.85,476.66 L254.87,476.57 L255.88,476.47 L256.89,476.38 L257.90,476.29 L258.92,476.20 L259.93,476.11 L260.94,476.02 L261.96,475.93 L262.97,475.84 L263.98,475.76 L265.00,475.67 L266.01,475.59 L267.02,475.50 L268.04,475.42 L269.05,475.34 L270.06,475.26 L271.08,475.18 L272.09,475.10 L273.10,475.02 L274.12,474.94 L275.13,474.86 L276.14,474.79 L277.16,474.71 L278.17,474.63 L279.18,474.56 L280.19,474.49 L281.21,474.41 L282.22,474.34 L283.23,474.27 L284.25,474.20 L285.26,474.13 L286.27,474.06 L287.29,473.99 L288.30,473.92 L289.31,473.86 L290.33,473.79 L291.34,473.72 L292.35,473.66 L293.37,473.59 L294.38,473.53 L295.39,473.46 L296.41,473.40 L297.42,473.34 L298.43,473.28 L299.45,473.21 L300.46,473.15 L301.47,473.09 L302.48,473.03 L303.50,472.97 L304.51,472.91 L305.52,472.86 L306.54,472.80 L307.55,472.74 L308.56,472.68 L309.58,472.63 L310.59,472.57 L311.60,472.52 L312.62,472.46 L313.63,472.41 L314.64,472.35 L315.66,472.30 L316.67,472.25 L317.68,472.19 L318.70,472.14 L319.71,472.09 L320.72,472.04 L321.73,471.99 L322.75,471.94 L323.76,471.88 L324.77,471.84 L325.79,471.79 L326.80,471.74 L327.81,471.69 L328.83,471.64 L329.84,471.59 L330.85,471.54 L331.87,471.50 L332.88,471.45 L333.89,471.40 L334.91,471.36 L335.92,471.31 L336.93,471.27 L337.95,471.22 L338.96,471.18 L339.97,471.13 L340.99,471.09 L342.00,471.04 L343.01,471.00 L344.02,470.96 L345.04,470.92 L346.05,470.87 L347.06,470.83 L348.08,470.79 L349.09,470.75 L350.10,470.71 L351.12,470.67 L352.13,470.62 L353.14,470.58 L354.16,470.54 L355.17,470.50 L356.18,470.47 L357.20,470.43 L358.21,470.39 L359.22,470.35 L360.24,470.31 L361.25,470.27 L362.26,470.23 L363.28,470.20 L364.29,470.16 L365.30,470.12 L366.31,470.09 L367.33,470.05 L368.34,470.01 L369.35,469.98 L370.37,469.94 L371.38,469.91 L372.39,469.87 L373.41,469.84 L374.42,469.80 L375.43,469.77 L376.45,469.73 L377.46,469.70 L378.47,469.66 L379.49,469.63 L380.50,469.60 L381.51,469.56 L382.53,469.53 L383.54,469.50 L384.55,469.47 L385.57,469.43 L386.58,469.40 L387.59,469.37 L388.60,469.34 L389.62,469.31 L390.63,469.27 L391.64,469.24 L392.66,469.21 L393.67,469.18 L394.68,469.15 L395.70,469.12 L396.71,469.09 L397.72,469.06 L398.74,469.03 L399.75,469.00 L400.76,468.97 L401.78,468.94 L402.79,468.91 L403.80,468.88 L404.82,468.86 L405.83,468.83 L406.84,468.80 L407.86,468.77 L408.87,468.74 L409.88,468.71 L410.89,468.69 L411.91,468.66 L412.92,468.63 L413.93,468.60 L414.95,468.58 L415.96,468.55 L416.97,468.52 L417.99,468.50 L419.00,468.47" fill="none" stroke="#ff0a0a" stroke-width="1.5" stroke-linejoin="round" stroke-linecap="butt"/><path d="M82.40,284.30 L82.68,284.33 L82.96,284.42 L83.24,284.56 L83.52,284.77 L83.80,285.03 L84.08,285.34 L84.36,285.72 L84.64,286.15 L84.92,286.63 L85.21,287.17 L85.49,287.76 L85.77,288.40 L86.05,289.09 L86.33,289.83 L86.61,290.61 L86.89,291.44 L87.17,292.32 L87.45,293.23 L87.73,294.19 L88.01,295.19 L88.29,296.22 L88.57,297.29 L88.85,298.39 L89.13,299.52 L89.41,300.68 L89.69,301.87 L89.97,303.09 L90.25,304.33 L90.53,305.59 L90.82,306.87 L91.10,308.18 L91.38,309.50 L91.66,310.83 L91.94,312.18 L92.22,313.54 L92.50,314.91 L92.78,316.29 L93.06,317.68 L93.34,319.07 L93.62,320.47 L93.90,321.87 L94.18,323.28 L94.46,324.68 L94.74,326.09 L95.02,327.50 L95.30,328.90 L95.58,330.30 L95.86,331.69 L96.14,333.08 L96.43,334.47 L96.71,335.85 L96.99,337.22 L97.27,338.58 L97.55,339.93 L97.83,341.28 L98.11,342.61 L98.39,343.94 L98.67,345.25 L98.95,346.56 L99.23,347.85 L99.51,349.13 L99.79,350.40 L100.07,351.65 L100.35,352.90 L100.63,354.13 L100.91,355.34 L101.19,356.55 L101.47,357.74 L101.75,358.92 L102.04,360.08 L102.32,361.23 L102.60,362.37 L102.88,363.49 L103.16,364.60 L103.44,365.69 L103.72,366.77 L104.00,367.84 L104.28,368.90 L104.56,369.94 L104.84,370.97 L105.12,371.98 L105.40,372.98 L105.68,373.97 L105.96,374.94 L106.24,375.90 L106.52,376.85 L106.80,377.79 L107.08,378.71 L107.36,379.62 L107.65,380.52 L107.93,381.40 L108.21,382.28 L108.49,383.14 L108.77,383.99 L109.05,384.82 L109.33,385.65 L109.61,386.47 L109.89,387.27 L110.17,388.06 L110.45,388.84 L110.73,389.61 L111.01,390.37 L111.29,391.12 L111.57,391.86 L111.85,392.59 L112.13,393.31 L112.41,394.02 L112.69,394.72 L112.97,395.41 L113.26,396.09 L113.54,396.76 L113.82,397.42 L114.10,398.07 L114.38,398.71 L114.66,399.35 L114.94,399.98 L115.22,400.59 L115.50,401.20 L115.78,401.80 L116.06,402.40 L117.07,404.48 L118.09,406.46 L119.10,408.34 L120.11,410.14 L121.13,411.86 L122.14,413.51 L123.15,415.08 L124.17,416.58 L125.18,418.02 L126.19,419.39 L127.20,420.71 L128.22,421.98 L129.23,423.19 L130.24,424.35 L131.26,425.47 L132.27,426.55 L133.28,427.58 L134.30,428.58 L135.31,429.54 L136.32,430.46 L137.34,431.35 L138.35,432.21 L139.36,433.04 L140.38,433.84 L141.39,434.62 L142.40,435.36 L143.42,436.08 L144.43,436.78 L145.44,437.46 L146.46,438.12 L147.47,438.75 L148.48,439.37 L149.49,439.96 L150.51,440.54 L151.52,441.10 L152.53,441.65 L153.55,442.18 L154.56,442.69 L155.57,443.19 L156.59,443.68 L157.60,444.15 L158.61,444.61 L159.63,445.05 L160.64,445.49 L161.65,445.91 L162.67,446.33 L163.68,446.73 L164.69,447.12 L165.71,447.50 L166.72,447.88 L167.73,448.24 L168.75,448.60 L169.76,448.94 L170.77,449.28 L171.78,449.61 L172.80,449.94 L173.81,450.25 L174.82,450.56 L175.84,450.86 L176.85,451.16 L177.86,451.45 L178.88,451.73 L179.89,452.01 L180.90,452.28 L181.92,452.54 L182.93,452.80 L183.94,453.05 L184.96,453.30 L185.97,453.55 L186.98,453.78 L188.00,454.02 L189.01,454.25 L190.02,454.47 L191.04,454.69 L192.05,454.91 L193.06,455.12 L194.07,455.33 L195.09,455.54 L196.10,455.74 L197.11,455.93 L198.13,456.13 L199.14,456.32 L200.15,456.50 L201.17,456.69 L202.18,456.87 L203.19,457.04 L204.21,457.22 L205.22,457.39 L206.23,457.56 L207.25,457.72 L208.26,457.88 L209.27,458.04 L210.29,458.20 L211.30,458.36 L212.31,458.51 L213.33,458.66 L214.34,458.80 L215.35,458.95 L216.36,459.09 L217.38,459.23 L218.39,459.37 L219.40,459.51 L220.42,459.64 L221.43,459.77 L222.44,459.90 L223.46,460.03 L224.47,460.16 L225.48,460.28 L226.50,460.41 L227.51,460.53 L228.52,460.65 L229.54,460.76 L230.55,460.88 L231.56,460.99 L232.58,461.11 L233.59,461.22 L234.60,461.33 L235.61,461.43 L236.63,461.54 L237.64,461.65 L238.65,461.75 L239.67,461.85 L240.68,461.95 L241.69,462.05 L242.71,462.15 L243.72,462.25 L244.73,462.34 L245.75,462.44 L246.76,462.53 L247.77,462.62 L248.79,462.71 L249.80,462.80 L250.81,462.89 L251.83,462.98 L252.84,463.07 L253.85,463.15 L254.87,463.24 L255.88,463.32 L256.89,463.40 L257.90,463.49 L258.92,463.57 L259.93,463.65 L260.94,463.72 L261.96,463.80 L262.97,463.88 L263.98,463.95 L265.00,464.03 L266.01,464.10 L267.02,464.18 L268.04,464.25 L269.05,464.32 L270.06,464.39 L271.08,464.46 L272.09,464.53 L273.10,464.60 L274.12,464.67 L275.13,464.74 L276.14,464.80 L277.16,464.87 L278.17,464.93 L279.18,465.00 L280.19,465.06 L281.21,465.12 L282.22,465.19 L283.23,465.25 L284.25,465.31 L285.26,465.37 L286.27,465.43 L287.29,465.49 L288.30,465.55 L289.31,465.61 L290.33,465.66 L291.34,465.72 L292.35,465.78 L293.37,465.83 L294.38,465.89 L295.39,465.94 L296.41,466.00 L297.42,466.05 L298.43,466.10 L299.45,466.15 L300.46,466.21 L301.47,466.26 L302.48,466.31 L303.50,466.36 L304.51,466.41 L305.52,466.46 L306.54,466.51 L307.55,466.56 L308.56,466.61 L309.58,466.65 L310.59,466.70 L311.60,466.75 L312.62,466.79 L313.63,466.84 L314.64,466.89 L315.66,466.93 L316.67,466.98 L317.68,467.02 L318.70,467.06 L319.71,467.11 L320.72,467.15 L321.73,467.19 L322.75,467.24 L323.76,467.28 L324.77,467.32 L325.79,467.36 L326.80,467.40 L327.81,467.45 L328.83,467.49 L329.84,467.53 L330.85,467.57 L331.87,467.60 L332.88,467.64 L333.89,467.68 L334.91,467.72 L335.92,467.76 L336.93,467.80 L337.95,467.83 L338.96,467.87 L339.97,467.91 L340.99,467.95 L342.00,467.98 L343.01,468.02 L344.02,468.05 L345.04,468.09 L346.05,468.12 L347.06,468.16 L348.08,468.19 L349.09,468.23 L350.10,468.26 L351.12,468.30 L352.13,468.33 L353.14,468.36 L354.16,468.40 L355.17,468.43 L356.18,468.46 L357.20,468.49 L358.21,468.53 L359.22,468.56 L360.24,468.59 L361.25,468.62 L362.26,468.65 L363.28,468.68 L364.29,468.71 L365.30,468.74 L366.31,468.77 L367.33,468.80 L368.34,468.83 L369.35,468.86 L370.37,468.89 L371.38,468.92 L372.39,468.95 L373.41,468.98 L374.42,469.01 L375.43,469.04 L376.45,469.07 L377.46,469.09 L378.47,469.12 L379.49,469.15 L380.50,469.18 L381.51,469.20 L382.53,469.23 L383.54,469.26 L384.55,469.28 L385.57,469.31 L386.58,469.34 L387.59,469.36 L388.60,469.39 L389.62,469.41 L390.63,469.44 L391.64,469.47 L392.66,469.49 L393.67,469.52 L394.68,469.54 L395.70,469.57 L396.71,469.59 L397.72,469.61 L398.74,469.64 L399.75,469.66 L400.76,469.69 L401.78,469.71 L402.79,469.73 L403.80,469.76 L404.82,469.78 L405.83,469.80 L406.84,469.83 L407.86,469.85 L408.87,469.87 L409.88,469.89 L410.89,469.92 L411.91,469.94 L412.92,469.96 L413.93,469.98 L414.95,470.01 L415.96,470.03 L416.97,470.05 L417.99,470.07 L419.00,470.09" fill="none" stroke="#4dbe33" stroke-width="1.5" stroke-linejoin="round" stroke-linecap="butt"/><path d="M82.40,564.60 L82.68,564.59 L82.96,564.56 L83.24,564.52 L83.52,564.45 L83.80,564.37 L84.08,564.27 L84.36,564.15 L84.64,564.01 L84.92,563.85 L85.21,563.67 L85.49,563.48 L85.77,563.26 L86.05,563.03 L86.33,562.79 L86.61,562.52 L86.89,562.24 L87.17,561.94 L87.45,561.63 L87.73,561.30 L88.01,560.96 L88.29,560.60 L88.57,560.22 L88.85,559.84 L89.13,559.44 L89.41,559.03 L89.69,558.61 L89.97,558.18 L90.25,557.74 L90.53,557.28 L90.82,556.82 L91.10,556.35 L91.38,555.88 L91.66,555.39 L91.94,554.91 L92.22,554.41 L92.50,553.91 L92.78,553.41 L93.06,552.90 L93.34,552.39 L93.62,551.88 L93.90,551.36 L94.18,550.85 L94.46,550.33 L94.74,549.81 L95.02,549.29 L95.30,548.78 L95.58,548.26 L95.86,547.75 L96.14,547.24 L96.43,546.73 L96.71,546.22 L96.99,545.71 L97.27,545.21 L97.55,544.72 L97.83,544.22 L98.11,543.73 L98.39,543.25 L98.67,542.77 L98.95,542.29 L99.23,541.82 L99.51,541.36 L99.79,540.90 L100.07,540.44 L100.35,539.99 L100.63,539.55 L100.91,539.11 L101.19,538.68 L101.47,538.25 L101.75,537.83 L102.04,537.42 L102.32,537.01 L102.60,536.61 L102.88,536.21 L103.16,535.82 L103.44,535.44 L103.72,535.06 L104.00,534.68 L104.28,534.32 L104.56,533.96 L104.84,533.60 L105.12,533.25 L105.40,532.91 L105.68,532.57 L105.96,532.24 L106.24,531.92 L106.52,531.60 L106.80,531.28 L107.08,530.97 L107.36,530.67 L107.65,530.37 L107.93,530.08 L108.21,529.79 L108.49,529.51 L108.77,529.23 L109.05,528.96 L109.33,528.69 L109.61,528.43 L109.89,528.17 L110.17,527.91 L110.45,527.66 L110.73,527.42 L111.01,527.18 L111.29,526.94 L111.57,526.71 L111.85,526.49 L112.13,526.26 L112.41,526.04 L112.69,525.83 L112.97,525.62 L113.26,525.41 L113.54,525.21 L113.82,525.01 L114.10,524.81 L114.38,524.62 L114.66,524.43 L114.94,524.24 L115.22,524.06 L115.50,523.88 L115.78,523.71 L116.06,523.53 L117.07,522.93 L118.09,522.37 L119.10,521.85 L120.11,521.36 L121.13,520.89 L122.14,520.46 L123.15,520.05 L124.17,519.67 L125.18,519.31 L126.19,518.97 L127.20,518.65 L128.22,518.35 L129.23,518.06 L130.24,517.79 L131.26,517.54 L132.27,517.30 L133.28,517.07 L134.30,516.86 L135.31,516.65 L136.32,516.46 L137.34,516.28 L138.35,516.10 L139.36,515.94 L140.38,515.78 L141.39,515.63 L142.40,515.49 L143.42,515.36 L144.43,515.23 L145.44,515.11 L146.46,514.99 L147.47,514.88 L148.48,514.77 L149.49,514.67 L150.51,514.57 L151.52,514.48 L152.53,514.39 L153.55,514.31 L154.56,514.22 L155.57,514.15 L156.59,514.07 L157.60,514.00 L158.61,513.93 L159.63,513.87 L160.64,513.80 L161.65,513.74 L162.67,513.68 L163.68,513.63 L164.69,513.57 L165.71,513.52 L166.72,513.47 L167.73,513.42 L168.75,513.38 L169.76,513.33 L170.77,513.29 L171.78,513.25 L172.80,513.21 L173.81,513.17 L174.82,513.13 L175.84,513.10 L176.85,513.06 L177.86,513.03 L178.88,513.00 L179.89,512.97 L180.90,512.94 L181.92,512.91 L182.93,512.88 L183.94,512.85 L184.96,512.83 L185.97,512.80 L186.98,512.78 L188.00,512.75 L189.01,512.73 L190.02,512.71 L191.04,512.69 L192.05,512.66 L193.06,512.64 L194.07,512.62 L195.09,512.61 L196.10,512.59 L197.11,512.57 L198.13,512.55 L199.14,512.53 L200.15,512.52 L201.17,512.50 L202.18,512.49 L203.19,512.47 L204.21,512.46 L205.22,512.44 L206.23,512.43 L207.25,512.42 L208.26,512.40 L209.27,512.39 L210.29,512.38 L211.30,512.37 L212.31,512.35 L213.33,512.34 L214.34,512.33 L215.35,512.32 L216.36,512.31 L217.38,512.30 L218.39,512.29 L219.40,512.28 L220.42,512.27 L221.43,512.26 L222.44,512.25 L223.46,512.24 L224.47,512.24 L225.48,512.23 L226.50,512.22 L227.51,512.21 L228.52,512.20 L229.54,512.20 L230.55,512.19 L231.56,512.18 L232.58,512.18 L233.59,512.17 L234.60,512.16 L235.61,512.16 L236.63,512.15 L237.64,512.14 L238.65,512.14 L239.67,512.13 L240.68,512.13 L241.69,512.12 L242.71,512.12 L243.72,512.11 L244.73,512.11 L245.75,512.10 L246.76,512.10 L247.77,512.09 L248.79,512.09 L249.80,512.08 L250.81,512.08 L251.83,512.07 L252.84,512.07 L253.85,512.06 L254.87,512.06 L255.88,512.06 L256.89,512.05 L257.90,512.05 L258.92,512.05 L259.93,512.04 L260.94,512.04 L261.96,512.03 L262.97,512.03 L263.98,512.03 L265.00,512.03 L266.01,512.02 L267.02,512.02 L268.04,512.02 L269.05,512.01 L270.06,512.01 L271.08,512.01 L272.09,512.00 L273.10,512.00 L274.12,512.00 L275.13,512.00 L276.14,511.99 L277.16,511.99 L278.17,511.99 L279.18,511.99 L280.19,511.98 L281.21,511.98 L282.22,511.98 L283.23,511.98 L284.25,511.98 L285.26,511.97 L286.27,511.97 L287.29,511.97 L288.30,511.97 L289.31,511.97 L290.33,511.96 L291.34,511.96 L292.35,511.96 L293.37,511.96 L294.38,511.96 L295.39,511.96 L296.41,511.95 L297.42,511.95 L298.43,511.95 L299.45,511.95 L300.46,511.95 L301.47,511.95 L302.48,511.94 L303.50,511.94 L304.51,511.94 L305.52,511.94 L306.54,511.94 L307.55,511.94 L308.56,511.94 L309.58,511.94 L310.59,511.93 L311.60,511.93 L312.62,511.93 L313.63,511.93 L314.64,511.93 L315.66,511.93 L316.67,511.93 L317.68,511.93 L318.70,511.93 L319.71,511.92 L320.72,511.92 L321.73,511.92 L322.75,511.92 L323.76,511.92 L324.77,511.92 L325.79,511.92 L326.80,511.92 L327.81,511.92 L328.83,511.92 L329.84,511.92 L330.85,511.91 L331.87,511.91 L332.88,511.91 L333.89,511.91 L334.91,511.91 L335.92,511.91 L336.93,511.91 L337.95,511.91 L338.96,511.91 L339.97,511.91 L340.99,511.91 L342.00,511.91 L343.01,511.91 L344.02,511.91 L345.04,511.91 L346.05,511.90 L347.06,511.90 L348.08,511.90 L349.09,511.90 L350.10,511.90 L351.12,511.90 L352.13,511.90 L353.14,511.90 L354.16,511.90 L355.17,511.90 L356.18,511.90 L357.20,511.90 L358.21,511.90 L359.22,511.90 L360.24,511.90 L361.25,511.90 L362.26,511.90 L363.28,511.90 L364.29,511.90 L365.30,511.90 L366.31,511.90 L367.33,511.90 L368.34,511.90 L369.35,511.89 L370.37,511.89 L371.38,511.89 L372.39,511.89 L373.41,511.89 L374.42,511.89 L375.43,511.89 L376.45,511.89 L377.46,511.89 L378.47,511.89 L379.49,511.89 L380.50,511.89 L381.51,511.89 L382.53,511.89 L383.54,511.89 L384.55,511.89 L385.57,511.89 L386.58,511.89 L387.59,511.89 L388.60,511.89 L389.62,511.89 L390.63,511.89 L391.64,511.89 L392.66,511.89 L393.67,511.89 L394.68,511.89 L395.70,511.89 L396.71,511.89 L397.72,511.89 L398.74,511.89 L399.75,511.89 L400.76,511.89 L401.78,511.89 L402.79,511.89 L403.80,511.89 L404.82,511.89 L405.83,511.89 L406.84,511.89 L407.86,511.89 L408.87,511.89 L409.88,511.89 L410.89,511.89 L411.91,511.89 L412.92,511.89 L413.93,511.89 L414.95,511.89 L415.96,511.89 L416.97,511.89 L417.99,511.89 L419.00,511.89" fill="none" stroke="#4dbe33" stroke-width="1.5" stroke-linejoin="round" stroke-linecap="butt"/><path d="M82.40,564.60 L82.68,564.59 L82.96,564.56 L83.24,564.50 L83.52,564.43 L83.80,564.33 L84.08,564.21 L84.36,564.07 L84.64,563.91 L84.92,563.73 L85.21,563.53 L85.49,563.31 L85.77,563.07 L86.05,562.82 L86.33,562.55 L86.61,562.26 L86.89,561.95 L87.17,561.63 L87.45,561.30 L87.73,560.95 L88.01,560.58 L88.29,560.21 L88.57,559.82 L88.85,559.43 L89.13,559.02 L89.41,558.60 L89.69,558.18 L89.97,557.75 L90.25,557.31 L90.53,556.86 L90.82,556.41 L91.10,555.95 L91.38,555.49 L91.66,555.03 L91.94,554.56 L92.22,554.09 L92.50,553.62 L92.78,553.14 L93.06,552.67 L93.34,552.19 L93.62,551.72 L93.90,551.24 L94.18,550.77 L94.46,550.29 L94.74,549.82 L95.02,549.35 L95.30,548.89 L95.58,548.42 L95.86,547.96 L96.14,547.51 L96.43,547.05 L96.71,546.60 L96.99,546.15 L97.27,545.71 L97.55,545.27 L97.83,544.84 L98.11,544.41 L98.39,543.98 L98.67,543.56 L98.95,543.15 L99.23,542.74 L99.51,542.33 L99.79,541.93 L100.07,541.53 L100.35,541.14 L100.63,540.76 L100.91,540.38 L101.19,540.00 L101.47,539.63 L101.75,539.27 L102.04,538.91 L102.32,538.55 L102.60,538.21 L102.88,537.86 L103.16,537.52 L103.44,537.19 L103.72,536.86 L104.00,536.54 L104.28,536.22 L104.56,535.90 L104.84,535.60 L105.12,535.29 L105.40,534.99 L105.68,534.70 L105.96,534.41 L106.24,534.12 L106.52,533.84 L106.80,533.57 L107.08,533.29 L107.36,533.03 L107.65,532.76 L107.93,532.51 L108.21,532.25 L108.49,532.00 L108.77,531.75 L109.05,531.51 L109.33,531.27 L109.61,531.04 L109.89,530.81 L110.17,530.58 L110.45,530.36 L110.73,530.14 L111.01,529.92 L111.29,529.71 L111.57,529.50 L111.85,529.29 L112.13,529.09 L112.41,528.89 L112.69,528.70 L112.97,528.50 L113.26,528.31 L113.54,528.13 L113.82,527.94 L114.10,527.76 L114.38,527.58 L114.66,527.41 L114.94,527.24 L115.22,527.07 L115.50,526.90 L115.78,526.73 L116.06,526.57 L117.07,526.01 L118.09,525.48 L119.10,524.97 L120.11,524.50 L121.13,524.05 L122.14,523.62 L123.15,523.22 L124.17,522.83 L125.18,522.47 L126.19,522.12 L127.20,521.79 L128.22,521.48 L129.23,521.18 L130.24,520.90 L131.26,520.63 L132.27,520.37 L133.28,520.12 L134.30,519.89 L135.31,519.66 L136.32,519.45 L137.34,519.25 L138.35,519.05 L139.36,518.86 L140.38,518.68 L141.39,518.51 L142.40,518.34 L143.42,518.18 L144.43,518.03 L145.44,517.88 L146.46,517.74 L147.47,517.61 L148.48,517.48 L149.49,517.35 L150.51,517.23 L151.52,517.11 L152.53,517.00 L153.55,516.89 L154.56,516.79 L155.57,516.68 L156.59,516.59 L157.60,516.49 L158.61,516.40 L159.63,516.31 L160.64,516.23 L161.65,516.15 L162.67,516.07 L163.68,515.99 L164.69,515.91 L165.71,515.84 L166.72,515.77 L167.73,515.70 L168.75,515.64 L169.76,515.57 L170.77,515.51 L171.78,515.45 L172.80,515.39 L173.81,515.33 L174.82,515.28 L175.84,515.22 L176.85,515.17 L177.86,515.12 L178.88,515.07 L179.89,515.02 L180.90,514.97 L181.92,514.93 L182.93,514.88 L183.94,514.84 L184.96,514.80 L185.97,514.76 L186.98,514.72 L188.00,514.68 L189.01,514.64 L190.02,514.60 L191.04,514.56 L192.05,514.53 L193.06,514.49 L194.07,514.46 L195.09,514.43 L196.10,514.39 L197.11,514.36 L198.13,514.33 L199.14,514.30 L200.15,514.27 L201.17,514.24 L202.18,514.21 L203.19,514.19 L204.21,514.16 L205.22,514.13 L206.23,514.11 L207.25,514.08 L208.26,514.06 L209.27,514.03 L210.29,514.01 L211.30,513.99 L212.31,513.96 L213.33,513.94 L214.34,513.92 L215.35,513.90 L216.36,513.88 L217.38,513.86 L218.39,513.84 L219.40,513.82 L220.42,513.80 L221.43,513.78 L222.44,513.76 L223.46,513.74 L224.47,513.72 L225.48,513.70 L226.50,513.69 L227.51,513.67 L228.52,513.65 L229.54,513.64 L230.55,513.62 L231.56,513.60 L232.58,513.59 L233.59,513.57 L234.60,513.56 L235.61,513.54 L236.63,513.53 L237.64,513.51 L238.65,513.50 L239.67,513.49 L240.68,513.47 L241.69,513.46 L242.71,513.45 L243.72,513.43 L244.73,513.42 L245.75,513.41 L246.76,513.39 L247.77,513.38 L248.79,513.37 L249.80,513.36 L250.81,513.35 L251.83,513.34 L252.84,513.32 L253.85,513.31 L254.87,513.30 L255.88,513.29 L256.89,513.28 L257.90,513.27 L258.92,513.26 L259.93,513.25 L260.94,513.24 L261.96,513.23 L262.97,513.22 L263.98,513.21 L265.00,513.20 L266.01,513.19 L267.02,513.18 L268.04,513.17 L269.05,513.17 L270.06,513.16 L271.08,513.15 L272.09,513.14 L273.10,513.13 L274.12,513.12 L275.13,513.11 L276.14,513.11 L277.16,513.10 L278.17,513.09 L279.18,513.08 L280.19,513.08 L281.21,513.07 L282.22,513.06 L283.23,513.05 L284.25,513.05 L285.26,513.04 L286.27,513.03 L287.29,513.02 L288.30,513.02 L289.31,513.01 L290.33,513.00 L291.34,513.00 L292.35,512.99 L293.37,512.98 L294.38,512.98 L295.39,512.97 L296.41,512.97 L297.42,512.96 L298.43,512.95 L299.45,512.95 L300.46,512.94 L301.47,512.94 L302.48,512.93 L303.50,512.92 L304.51,512.92 L305.52,512.91 L306.54,512.91 L307.55,512.90 L308.56,512.90 L309.58,512.89 L310.59,512.89 L311.60,512.88 L312.62,512.88 L313.63,512.87 L314.64,512.87 L315.66,512.86 L316.67,512.86 L317.68,512.85 L318.70,512.85 L319.71,512.84 L320.72,512.84 L321.73,512.83 L322.75,512.83 L323.76,512.82 L324.77,512.82 L325.79,512.81 L326.80,512.81 L327.81,512.80 L328.83,512.80 L329.84,512.80 L330.85,512.79 L331.87,512.79 L332.88,512.78 L333.89,512.78 L334.91,512.77 L335.92,512.77 L336.93,512.77 L337.95,512.76 L338.96,512.76 L339.97,512.75 L340.99,512.75 L342.00,512.75 L343.01,512.74 L344.02,512.74 L345.04,512.74 L346.05,512.73 L347.06,512.73 L348.08,512.72 L349.09,512.72 L350.10,512.72 L351.12,512.71 L352.13,512.71 L353.14,512.71 L354.16,512.70 L355.17,512.70 L356.18,512.70 L357.20,512.69 L358.21,512.69 L359.22,512.69 L360.24,512.68 L361.25,512.68 L362.26,512.68 L363.28,512.67 L364.29,512.67 L365.30,512.67 L366.31,512.67 L367.33,512.66 L368.34,512.66 L369.35,512.66 L370.37,512.65 L371.38,512.65 L372.39,512.65 L373.41,512.65 L374.42,512.64 L375.43,512.64 L376.45,512.64 L377.46,512.63 L378.47,512.63 L379.49,512.63 L380.50,512.63 L381.51,512.62 L382.53,512.62 L383.54,512.62 L384.55,512.62 L385.57,512.61 L386.58,512.61 L387.59,512.61 L388.60,512.61 L389.62,512.60 L390.63,512.60 L391.64,512.60 L392.66,512.60 L393.67,512.59 L394.68,512.59 L395.70,512.59 L396.71,512.59 L397.72,512.58 L398.74,512.58 L399.75,512.58 L400.76,512.58 L401.78,512.57 L402.79,512.57 L403.80,512.57 L404.82,512.57 L405.83,512.57 L406.84,512.56 L407.86,512.56 L408.87,512.56 L409.88,512.56 L410.89,512.55 L411.91,512.55 L412.92,512.55 L413.93,512.55 L414.95,512.55 L415.96,512.54 L416.97,512.54 L417.99,512.54 L419.00,512.54" fill="none" stroke="#4dbe33" stroke-width="1.5" stroke-linejoin="round" stroke-linecap="butt"/><path d="M82.40,564.60 L82.68,564.59 L82.96,564.56 L83.24,564.52 L83.52,564.46 L83.80,564.38 L84.08,564.28 L84.36,564.17 L84.64,564.04 L84.92,563.89 L85.21,563.73 L85.49,563.56 L85.77,563.37 L86.05,563.16 L86.33,562.94 L86.61,562.71 L86.89,562.47 L87.17,562.21 L87.45,561.94 L87.73,561.67 L88.01,561.38 L88.29,561.08 L88.57,560.77 L88.85,560.45 L89.13,560.12 L89.41,559.78 L89.69,559.44 L89.97,559.09 L90.25,558.73 L90.53,558.36 L90.82,557.99 L91.10,557.62 L91.38,557.23 L91.66,556.85 L91.94,556.46 L92.22,556.06 L92.50,555.66 L92.78,555.26 L93.06,554.85 L93.34,554.45 L93.62,554.04 L93.90,553.62 L94.18,553.21 L94.46,552.79 L94.74,552.37 L95.02,551.96 L95.30,551.54 L95.58,551.12 L95.86,550.70 L96.14,550.28 L96.43,549.86 L96.71,549.44 L96.99,549.02 L97.27,548.60 L97.55,548.18 L97.83,547.76 L98.11,547.34 L98.39,546.93 L98.67,546.52 L98.95,546.10 L99.23,545.69 L99.51,545.28 L99.79,544.88 L100.07,544.47 L100.35,544.07 L100.63,543.67 L100.91,543.27 L101.19,542.87 L101.47,542.48 L101.75,542.08 L102.04,541.70 L102.32,541.31 L102.60,540.92 L102.88,540.54 L103.16,540.16 L103.44,539.78 L103.72,539.41 L104.00,539.04 L104.28,538.67 L104.56,538.30 L104.84,537.94 L105.12,537.57 L105.40,537.22 L105.68,536.86 L105.96,536.51 L106.24,536.16 L106.52,535.81 L106.80,535.47 L107.08,535.12 L107.36,534.78 L107.65,534.45 L107.93,534.11 L108.21,533.78 L108.49,533.46 L108.77,533.13 L109.05,532.81 L109.33,532.49 L109.61,532.17 L109.89,531.86 L110.17,531.55 L110.45,531.24 L110.73,530.93 L111.01,530.63 L111.29,530.33 L111.57,530.03 L111.85,529.73 L112.13,529.44 L112.41,529.15 L112.69,528.86 L112.97,528.57 L113.26,528.29 L113.54,528.01 L113.82,527.73 L114.10,527.46 L114.38,527.18 L114.66,526.91 L114.94,526.65 L115.22,526.38 L115.50,526.12 L115.78,525.86 L116.06,525.60 L117.07,524.68 L118.09,523.79 L119.10,522.93 L120.11,522.10 L121.13,521.29 L122.14,520.51 L123.15,519.76 L124.17,519.02 L125.18,518.31 L126.19,517.62 L127.20,516.95 L128.22,516.30 L129.23,515.67 L130.24,515.05 L131.26,514.46 L132.27,513.88 L133.28,513.32 L134.30,512.77 L135.31,512.24 L136.32,511.73 L137.34,511.22 L138.35,510.73 L139.36,510.26 L140.38,509.80 L141.39,509.34 L142.40,508.90 L143.42,508.48 L144.43,508.06 L145.44,507.65 L146.46,507.25 L147.47,506.87 L148.48,506.49 L149.49,506.12 L150.51,505.76 L151.52,505.41 L152.53,505.06 L153.55,504.73 L154.56,504.40 L155.57,504.08 L156.59,503.77 L157.60,503.46 L158.61,503.16 L159.63,502.87 L160.64,502.58 L161.65,502.30 L162.67,502.02 L163.68,501.75 L164.69,501.49 L165.71,501.23 L166.72,500.98 L167.73,500.73 L168.75,500.49 L169.76,500.25 L170.77,500.02 L171.78,499.79 L172.80,499.56 L173.81,499.34 L174.82,499.13 L175.84,498.92 L176.85,498.71 L177.86,498.50 L178.88,498.30 L179.89,498.11 L180.90,497.91 L181.92,497.72 L182.93,497.54 L183.94,497.35 L184.96,497.17 L185.97,497.00 L186.98,496.82 L188.00,496.65 L189.01,496.48 L190.02,496.32 L191.04,496.16 L192.05,496.00 L193.06,495.84 L194.07,495.69 L195.09,495.53 L196.10,495.38 L197.11,495.24 L198.13,495.09 L199.14,494.95 L200.15,494.81 L201.17,494.67 L202.18,494.53 L203.19,494.40 L204.21,494.27 L205.22,494.14 L206.23,494.01 L207.25,493.88 L208.26,493.76 L209.27,493.63 L210.29,493.51 L211.30,493.39 L212.31,493.28 L213.33,493.16 L214.34,493.04 L215.35,492.93 L216.36,492.82 L217.38,492.71 L218.39,492.60 L219.40,492.50 L220.42,492.39 L221.43,492.29 L222.44,492.18 L223.46,492.08 L224.47,491.98 L225.48,491.89 L226.50,491.79 L227.51,491.69 L228.52,491.60 L229.54,491.50 L230.55,491.41 L231.56,491.32 L232.58,491.23 L233.59,491.14 L234.60,491.05 L235.61,490.97 L236.63,490.88 L237.64,490.80 L238.65,490.71 L239.67,490.63 L240.68,490.55 L241.69,490.47 L242.71,490.39 L243.72,490.31 L244.73,490.23 L245.75,490.15 L246.76,490.08 L247.77,490.00 L248.79,489.93 L249.80,489.85 L250.81,489.78 L251.83,489.71 L252.84,489.64 L253.85,489.57 L254.87,489.50 L255.88,489.43 L256.89,489.36 L257.90,489.29 L258.92,489.23 L259.93,489.16 L260.94,489.10 L261.96,489.03 L262.97,488.97 L263.98,488.91 L265.00,488.84 L266.01,488.78 L267.02,488.72 L268.04,488.66 L269.05,488.60 L270.06,488.54 L271.08,488.48 L272.09,488.42 L273.10,488.37 L274.12,488.31 L275.13,488.25 L276.14,488.20 L277.16,488.14 L278.17,488.09 L279.18,488.03 L280.19,487.98 L281.21,487.93 L282.22,487.87 L283.23,487.82 L284.25,487.77 L285.26,487.72 L286.27,487.67 L287.29,487.62 L288.30,487.57 L289.31,487.52 L290.33,487.47 L291.34,487.42 L292.35,487.37 L293.37,487.33 L294.38,487.28 L295.39,487.23 L296.41,487.19 L297.42,487.14 L298.43,487.09 L299.45,487.05 L300.46,487.00 L301.47,486.96 L302.48,486.92 L303.50,486.87 L304.51,486.83 L305.52,486.79 L306.54,486.75 L307.55,486.70 L308.56,486.66 L309.58,486.62 L310.59,486.58 L311.60,486.54 L312.62,486.50 L313.63,486.46 L314.64,486.42 L315.66,486.38 L316.67,486.34 L317.68,486.30 L318.70,486.26 L319.71,486.23 L320.72,486.19 L321.73,486.15 L322.75,486.11 L323.76,486.08 L324.77,486.04 L325.79,486.01 L326.80,485.97 L327.81,485.93 L328.83,485.90 L329.84,485.86 L330.85,485.83 L331.87,485.79 L332.88,485.76 L333.89,485.73 L334.91,485.69 L335.92,485.66 L336.93,485.63 L337.95,485.59 L338.96,485.56 L339.97,485.53 L340.99,485.50 L342.00,485.46 L343.01,485.43 L344.02,485.40 L345.04,485.37 L346.05,485.34 L347.06,485.31 L348.08,485.28 L349.09,485.25 L350.10,485.22 L351.12,485.19 L352.13,485.16 L353.14,485.13 L354.16,485.10 L355.17,485.07 L356.18,485.04 L357.20,485.01 L358.21,484.98 L359.22,484.96 L360.24,484.93 L361.25,484.90 L362.26,484.87 L363.28,484.84 L364.29,484.82 L365.30,484.79 L366.31,484.76 L367.33,484.74 L368.34,484.71 L369.35,484.68 L370.37,484.66 L371.38,484.63 L372.39,484.61 L373.41,484.58 L374.42,484.56 L375.43,484.53 L376.45,484.50 L377.46,484.48 L378.47,484.46 L379.49,484.43 L380.50,484.41 L381.51,484.38 L382.53,484.36 L383.54,484.33 L384.55,484.31 L385.57,484.29 L386.58,484.26 L387.59,484.24 L388.60,484.22 L389.62,484.19 L390.63,484.17 L391.64,484.15 L392.66,484.12 L393.67,484.10 L394.68,484.08 L395.70,484.06 L396.71,484.04 L397.72,484.01 L398.74,483.99 L399.75,483.97 L400.76,483.95 L401.78,483.93 L402.79,483.91 L403.80,483.89 L404.82,483.86 L405.83,483.84 L406.84,483.82 L407.86,483.80 L408.87,483.78 L409.88,483.76 L410.89,483.74 L411.91,483.72 L412.92,483.70 L413.93,483.68 L414.95,483.66 L415.96,483.64 L416.97,483.62 L417.99,483.60 L419.00,483.58" fill="none" stroke="#4dbe33" stroke-width="1.5" stroke-linejoin="round" stroke-linecap="butt"/></g>
<g><rect x="327.85" y="298.15" width="75.15" height="80.25" fill="#fff" stroke="#000" stroke-width="0.42"/><path d="M337.4,308.40 H356.1" stroke="#761f63" stroke-width="1.5" stroke-linecap="round" fill="none"/><path d="M337.4,328.40 H356.1" stroke="#0a0aff" stroke-width="1.5" stroke-linecap="round" fill="none"/><path d="M337.4,348.40 H356.1" stroke="#ff0a0a" stroke-width="1.5" stroke-linecap="round" fill="none"/><path d="M337.4,368.40 H356.1" stroke="#4dbe33" stroke-width="1.5" stroke-linecap="round" fill="none"/></g>
<g><text transform="translate(71.60,570.45) scale(0.918,1)" font-size="16.9" fill="#000" text-anchor="end">0.0</text><text transform="translate(71.60,514.39) scale(0.918,1)" font-size="16.9" fill="#000" text-anchor="end">0.2</text><text transform="translate(71.60,458.33) scale(0.918,1)" font-size="16.9" fill="#000" text-anchor="end">0.4</text><text transform="translate(71.60,402.27) scale(0.918,1)" font-size="16.9" fill="#000" text-anchor="end">0.6</text><text transform="translate(71.60,346.21) scale(0.918,1)" font-size="16.9" fill="#000" text-anchor="end">0.8</text><text transform="translate(71.60,290.15) scale(0.918,1)" font-size="16.9" fill="#000" text-anchor="end">1.0</text><text transform="translate(82.20,583.45) scale(0.918,1)" font-size="16.9" fill="#000" text-anchor="middle">0</text><text transform="translate(149.52,583.45) scale(0.918,1)" font-size="16.9" fill="#000" text-anchor="middle">1</text><text transform="translate(216.84,583.45) scale(0.918,1)" font-size="16.9" fill="#000" text-anchor="middle">2</text><text transform="translate(284.16,583.45) scale(0.918,1)" font-size="16.9" fill="#000" text-anchor="middle">3</text><text transform="translate(351.48,583.45) scale(0.918,1)" font-size="16.9" fill="#000" text-anchor="middle">4</text><text transform="translate(418.80,583.45) scale(0.918,1)" font-size="16.9" fill="#000" text-anchor="middle">5</text><text transform="translate(156.30,301.50) scale(0.945,1)" font-size="12.7" fill="#761f63" text-anchor="start">(0,0)</text><text transform="translate(155.30,361.90) scale(0.945,1)" font-size="12.7" fill="#0a0aff" text-anchor="start">(1,1)</text><text transform="translate(156.30,410.70) scale(0.945,1)" font-size="12.7" fill="#ff0a0a" text-anchor="start">(2,2)</text><text transform="translate(156.30,441.00) scale(0.945,1)" font-size="12.7" fill="#4dbe33" text-anchor="start">(3,3)</text><text transform="translate(218.20,451.60) scale(0.945,1)" font-size="12.7" fill="#0a0aff" text-anchor="start">(1,−1)</text><text transform="translate(220.30,474.70) scale(0.945,1)" font-size="12.7" fill="#ff0a0a" text-anchor="start">(2,−2)</text><text transform="translate(244.50,486.10) scale(0.945,1)" font-size="12.7" fill="#4dbe33" text-anchor="start">(3,−3)</text><text transform="translate(336.30,507.10) scale(0.945,1)" font-size="12.7" fill="#ff0a0a" text-anchor="start">(2,0)</text><text transform="translate(316.40,525.40) scale(0.945,1)" font-size="12.7" fill="#4dbe33" text-anchor="start">(3,1)&amp;(3,−1)</text><text transform="translate(365.60,313.65) scale(0.918,1)" font-size="16.9" fill="#000" text-anchor="start">n=0</text><text transform="translate(365.60,333.65) scale(0.918,1)" font-size="16.9" fill="#000" text-anchor="start">n=1</text><text transform="translate(365.60,353.65) scale(0.918,1)" font-size="16.9" fill="#000" text-anchor="start">n=2</text><text transform="translate(365.60,373.65) scale(0.918,1)" font-size="16.9" fill="#000" text-anchor="start">n=3</text></g>
<g fill="none" stroke="#000" stroke-linecap="round" stroke-linejoin="round"><path d="M207.3,597.1 L207.3,606.9" stroke-width="1.15"/><circle cx="207.0" cy="607.1" r="0.75" fill="#000" stroke="none"/><path d="M207.3,602.3 C207.4,605.8 211.2,606.1 213.0,602.6" stroke-width="1.3"/><path d="M213.1,597.1 L213.1,603.6 C213.1,605.2 213.9,605.3 214.6,604.5" stroke-width="1.15"/><path d="M220.1,598.9 H228.1 M220.1,602.8 H228.1" stroke-width="1.05" stroke-linecap="butt"/></g>
<text transform="translate(0,605.3)" font-size="16.3"><tspan x="233.2" textLength="12.3" lengthAdjust="spacingAndGlyphs">Q</tspan><tspan x="251.3" dy="4.3" font-size="9.5">s</tspan><tspan x="255.6" dy="-4.3" textLength="27.4" lengthAdjust="spacingAndGlyphs">/ΔQ</tspan></text>
<g transform="translate(38.0,457.1) rotate(-90)"><text transform="translate(0.10,0.00) scale(1.1106,1)" font-size="15.4" fill="#000">ν</text><text transform="translate(8.64,5.00) scale(0.8560,1)" font-size="9.9" fill="#000">n</text><text transform="translate(14.38,5.00) scale(1.0292,1)" font-size="9.9" fill="#000">,</text><text transform="translate(16.87,5.00) scale(0.9659,1)" font-size="9.9" fill="#000">m</text><text transform="translate(25.20,0.00) scale(0.8732,1)" font-size="16.9" fill="#000">/</text><text transform="translate(28.76,0.00) scale(1.0003,1)" font-size="14.8" fill="#000">Δ</text><text transform="translate(38.27,0.00) scale(1.0315,1)" font-size="16.9" fill="#000">Q</text></g>
</svg>
</body></html>
